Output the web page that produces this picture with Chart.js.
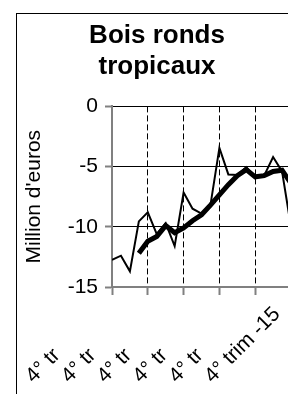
<!DOCTYPE html>
<html>
<head>
<meta charset="utf-8">
<script src="https://cdn.jsdelivr.net/npm/chart.js@4"></script>
<style>
  html, body { margin: 0; padding: 0; overflow: hidden; background: #fff; }
  #wrap { position: relative; width: 300px; height: 420px; }
</style>
</head>
<body>
<div id="wrap"><canvas id="chart" width="300" height="420"></canvas></div>
<script>
// quarter ticks (every 4th quarter, Q4 2010 .. Q4 2015)
const tickQuarters = [0, 4, 8, 12, 16, 20];
const xLabels = ['4° tr', '4° tr', '4° tr', '4° tr', '4° tr', '4° trim -15'];

// quarterly balance, million euros
const quarterly = [-12.75, -12.4, -13.7, -9.55, -8.8, -10.6, -9.7, -11.6, -7.15, -8.5, -8.9,
                   -8.2, -3.45, -5.65, -5.7, -5.05, -5.85, -5.75, -4.2, -5.4, -10.0];
// 4-quarter moving average
const movingAvg = [null, null, null, -12.2, -11.2, -10.8, -9.9, -10.5, -10.1, -9.5, -9.0,
                   -8.2, -7.35, -6.5, -5.75, -5.25, -5.85, -5.75, -5.4, -5.3, -6.4];

const yTicks = [0, -5, -10, -15];

const FONT = "'Liberation Sans', Arial, sans-serif";
const measure = document.createElement('canvas').getContext('2d');
measure.font = '21px ' + FONT;
const fullWidth = Math.max(...xLabels.map(l => measure.measureText(l).width));

// pad short labels so every label starts at the same distance from its tick
function padLabel(l) {
    let s = l;
    while (measure.measureText(s + ' ').width <= fullWidth + 1) s += ' ';
    return s;
}

const boxBorder = {
    id: 'boxBorder',
    beforeDraw(chart) {
        const ctx = chart.ctx;
        ctx.save();
        ctx.strokeStyle = '#000';
        ctx.lineWidth = 1;
        ctx.strokeRect(16.5, 13.5, 282, 500);
        ctx.restore();
    }
};

const toPoints = arr => arr.map((v, i) => ({ x: i, y: v }));

new Chart(document.getElementById('chart'), {
    type: 'line',
    data: {
        datasets: [
            {
                label: 'Trimestriel',
                data: toPoints(quarterly),
                borderColor: '#000',
                borderWidth: 2,
                pointRadius: 0,
                tension: 0
            },
            {
                label: 'Moyenne mobile',
                data: toPoints(movingAvg),
                borderColor: '#000',
                borderWidth: 5,
                pointRadius: 0,
                tension: 0
            }
        ]
    },
    options: {
        responsive: false,
        animation: false,
        devicePixelRatio: 1,
        layout: { padding: { left: 16, right: 2, top: 0, bottom: 0 } },
        plugins: {
            legend: { display: false },
            tooltip: { enabled: false },
            title: {
                display: true,
                text: ['Bois ronds', 'tropicaux'],
                color: '#000',
                font: { family: FONT, size: 26, weight: 'bold', lineHeight: 1.2 },
                padding: { top: 20, bottom: 24 }
            }
        },
        scales: {
            x: {
                type: 'linear',
                min: 0,
                max: 20,
                afterBuildTicks: s => { s.ticks = tickQuarters.map(v => ({ value: v })); },
                afterFit: s => { s.height = 133; s.paddingRight = 9; s.paddingLeft = 0; },
                ticks: {
                    autoSkip: false,
                    minRotation: 45,
                    maxRotation: 45,
                    padding: 7,
                    labelOffset: -14,
                    color: '#000',
                    font: { family: FONT, size: 21 },
                    callback: (v) => padLabel(xLabels[tickQuarters.indexOf(v)])
                },
                grid: {
                    color: ctx => (ctx.tick && ctx.tick.value === 0) ? 'rgba(0,0,0,0)' : '#000',
                    lineWidth: 1,
                    tickColor: '#808080',
                    tickWidth: 2,
                    tickLength: 8,
                    tickBorderDash: []
                },
                border: { color: '#808080', width: 2, dash: [6, 3] }
            },
            y: {
                min: -15,
                max: 0,
                afterBuildTicks: s => { s.ticks = yTicks.map(v => ({ value: v })); },
                afterFit: s => { s.width = 96; },
                ticks: {
                    padding: 7,
                    color: '#000',
                    font: { family: FONT, size: 21 }
                },
                grid: {
                    color: '#000',
                    lineWidth: 1,
                    tickColor: '#808080',
                    tickWidth: 2,
                    tickLength: 7
                },
                border: { color: '#808080', width: 2 },
                title: {
                    display: true,
                    text: "Million d'euros",
                    color: '#000',
                    font: { family: FONT, size: 21 },
                    padding: { top: 6, bottom: 0 }
                }
            }
        }
    },
    plugins: [boxBorder]
});
</script>
</body>
</html>
